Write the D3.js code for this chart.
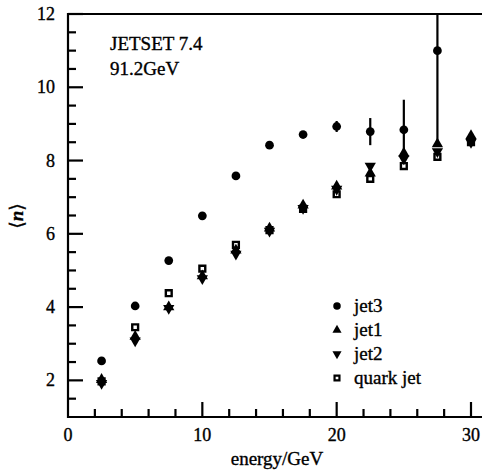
<!DOCTYPE html>
<html><head><meta charset="utf-8">
<script src="https://cdn.jsdelivr.net/npm/d3@7"></script>
<style>body{margin:0;background:#fff}svg{display:block}text{font-family:"Liberation Serif","DejaVu Serif",serif;fill:#000;stroke:#000;stroke-width:0.35px}</style>
</head><body><svg id="c" width="482" height="473"></svg>
<script>
const energy = [2.5,5,7.5,10,12.5,15,17.5,20,22.5,25,27.5,30];
const jet3 = [2.53,4.03,5.27,6.49,7.58,8.42,8.71,8.93,8.79,8.84,11.0,8.58];
const jet3Err = [0,0,0,0,0,0,0,0.15,0.37,0.82,2.6,0];
const jet1 = [2.02,3.2,4.0,4.85,5.55,6.15,6.78,7.3,7.65,8.2,8.45,8.68];
const jet2 = [1.92,3.08,3.97,4.78,5.45,6.08,6.7,7.22,7.85,8.05,8.25,8.5];
const quark = [1.97,3.45,4.38,5.05,5.7,6.1,6.68,7.08,7.5,7.85,8.1,8.5];
const xTicks = [0,10,20,30];
const yTicks = [2,4,6,8,10,12];
const legendNames = ["jet3","jet1","jet2","quark jet"];

const svg = d3.select("#c");
const x = d3.scaleLinear().domain([0,30]).range([68,471]);
const y = d3.scaleLinear().domain([1,12]).range([417,14]);
const xEnd = 482;

svg.append("clipPath").attr("id","clip").append("rect")
  .attr("x",x(0)).attr("y",y(12)).attr("width",xEnd-x(0)).attr("height",y(1)-y(12));

const ax = svg.append("g").attr("stroke","#000").attr("stroke-width",2.2).attr("fill","none");
ax.append("path").attr("d",`M${xEnd},${y(12)}H${x(0)}V${y(1)}H${xEnd}`).attr("stroke-linecap","square");

const xMinor = d3.range(2, 31, 2);
xMinor.forEach(v=>{
  const major = v % 10 === 0;
  ax.append("line").attr("x1",x(v)).attr("x2",x(v)).attr("y1",y(1)).attr("y2",y(1)-(major?15:8));
});
const yMinor = d3.range(1.5, 12.01, 0.5);
yMinor.forEach(v=>{
  const major = v % 2 === 0;
  ax.append("line").attr("x1",x(0)).attr("x2",x(0)+(major?15:8)).attr("y1",y(v)).attr("y2",y(v));
});

svg.append("g").selectAll("text").data(xTicks).join("text")
  .attr("x",d=>x(d)).attr("y",y(1)+24).attr("text-anchor","middle")
  .attr("font-size",18).text(d=>d);
svg.append("g").selectAll("text").data(yTicks).join("text")
  .attr("x",x(0)-13).attr("y",d=>y(d)+6).attr("text-anchor","end")
  .attr("font-size",18).text(d=>d);

svg.append("text").attr("x",277).attr("y",465).attr("text-anchor","middle")
  .attr("font-size",19).text("energy/GeV");
const yl = svg.append("text").attr("transform","translate(23,216) rotate(-90)")
  .attr("text-anchor","middle").attr("font-size",19);
yl.append("tspan").text("\u27E8");
yl.append("tspan").attr("font-style","italic").attr("font-weight","bold").text("n");
yl.append("tspan").text("\u27E9");

svg.append("text").attr("x",110).attr("y",50).attr("font-size",19).text("JETSET 7.4");
svg.append("text").attr("x",110).attr("y",75).attr("font-size",19).text("91.2GeV");

const data = svg.append("g").attr("clip-path","url(#clip)");
const sym = {
  circle: d3.symbol().type(d3.symbolCircle).size(60),
  up: d3.symbol().type(d3.symbolTriangle).size(55),
  square: d3.symbol().type(d3.symbolSquare).size(34)
};

data.append("g").selectAll("path").data(energy).join("path")
  .attr("transform",(d,i)=>`translate(${x(d)},${y(quark[i])})`)
  .attr("d",sym.square()).attr("fill","#fff").attr("stroke","#000").attr("stroke-width",2.4);
data.append("g").selectAll("path").data(energy).join("path")
  .attr("transform",(d,i)=>`translate(${x(d)},${y(jet2[i])}) rotate(180)`)
  .attr("d",sym.up()).attr("fill","#000");
data.append("g").selectAll("path").data(energy).join("path")
  .attr("transform",(d,i)=>`translate(${x(d)},${y(jet1[i])})`)
  .attr("d",sym.up()).attr("fill","#000");
data.append("g").selectAll("line").data(energy.filter((d,i)=>jet3Err[i]>0)).join("line")
  .each(function(d){
    const i = energy.indexOf(d);
    d3.select(this).attr("x1",x(d)).attr("x2",x(d))
      .attr("y1",y(jet3[i]-jet3Err[i])).attr("y2",y(jet3[i]+jet3Err[i]));
  }).attr("stroke","#000").attr("stroke-width",2.2);
data.append("g").selectAll("path").data(energy).join("path")
  .attr("transform",(d,i)=>`translate(${x(d)},${y(jet3[i])})`)
  .attr("d",sym.circle()).attr("fill","#000");

const lg = svg.append("g");
const ly = [306,330,354,378];
const lsym = [
  {d:d3.symbol().type(d3.symbolCircle).size(44)(), rot:0, fill:"#000", stroke:"none"},
  {d:d3.symbol().type(d3.symbolTriangle).size(36)(), rot:0, fill:"#000", stroke:"none"},
  {d:d3.symbol().type(d3.symbolTriangle).size(36)(), rot:180, fill:"#000", stroke:"none"},
  {d:d3.symbol().type(d3.symbolSquare).size(24)(), rot:0, fill:"#fff", stroke:"#000"}
];
legendNames.forEach((n,i)=>{
  lg.append("path").attr("d",lsym[i].d)
    .attr("transform",`translate(337,${ly[i]}) rotate(${lsym[i].rot})`)
    .attr("fill",lsym[i].fill).attr("stroke",lsym[i].stroke).attr("stroke-width",2.2);
  lg.append("text").attr("x",354).attr("y",ly[i]+6).attr("font-size",19).text(n);
});
</script></body></html>
